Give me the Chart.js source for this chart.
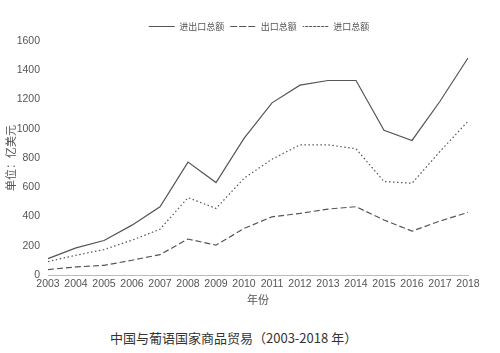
<!DOCTYPE html>
<html>
<head>
<meta charset="utf-8">
<script src="https://cdn.jsdelivr.net/npm/chart.js@4/dist/chart.umd.min.js"></script>
<style>
  html, body { margin: 0; padding: 0; background: #fff; }
  #wrap { position: relative; width: 500px; height: 353px; }
  #pie { position: absolute; left: 110px; top: 328px; font-family: 'Noto Sans CJK SC', sans-serif; font-size: 13px; color: #333; white-space: nowrap; }
</style>
</head>
<body>
<div id="wrap">
  <canvas id="grafica" width="500" height="318"></canvas>
  <div id="pie">中国与葡语国家商品贸易（2003-2018 年）</div>
</div>
<script>
// datos (亿美元)
const years = ['2003','2004','2005','2006','2007','2008','2009','2010','2011','2012','2013','2014','2015','2016','2017','2018'];
const totalTrade = [112, 185, 236, 341, 467, 772, 632, 934, 1177, 1298, 1330, 1330, 989, 920, 1188, 1484];
const exportsVal = [37, 55, 66, 101, 139, 246, 204, 318, 398, 421, 451, 467, 376, 300, 369, 428];
const importsVal = [92, 135, 174, 238, 313, 529, 455, 661, 792, 890, 890, 863, 639, 627, 845, 1051];
const seriesNames = ['进出口总额', '出口总额', '进口总额'];

const gris = '#555';
const fuente = "'Liberation Sans', sans-serif";
const fuenteCJK = "'Noto Sans CJK SC', sans-serif";

// mover la leyenda un poco a la derecha
const moverLeyenda = {
  id: 'moverLeyenda',
  afterLayout(chart) {
    if (chart.legend) { chart.legend.left += 23; chart.legend.right += 23; }
  }
};

let micanvas = document.getElementById('grafica').getContext('2d');
var chart = new Chart(micanvas, {
  type: 'line',
  data: {
    labels: years,
    datasets: [
      { label: seriesNames[0], data: totalTrade, borderColor: gris, backgroundColor: 'transparent', borderWidth: 1.2, pointRadius: 0, tension: 0 },
      { label: seriesNames[1], data: exportsVal, borderColor: gris, backgroundColor: 'transparent', borderWidth: 1.2, borderDash: [6, 3], pointRadius: 0, tension: 0 },
      { label: seriesNames[2], data: importsVal, borderColor: gris, backgroundColor: 'transparent', borderWidth: 1.2, borderDash: [1.5, 2.5], pointRadius: 0, tension: 0 }
    ]
  },
  plugins: [moverLeyenda],
  options: {
    responsive: false,
    animation: false,
    layout: { padding: { left: 4, right: 32, top: 16, bottom: 12 } },
    plugins: {
      legend: {
        display: true,
        position: 'top',
        labels: {
          boxWidth: 26, boxHeight: 0,
          color: gris,
          font: { family: fuenteCJK, size: 9 },
          padding: 6
        }
      },
      title: { display: false },
      tooltip: { enabled: false }
    },
    scales: {
      x: {
        offset: false,
        grid: { display: false, drawTicks: false },
        border: { display: true, color: '#bbb' },
        ticks: { color: gris, font: { family: fuente, size: 10.5 }, maxRotation: 0, autoSkip: false, padding: 3 },
        title: { display: true, text: '年份', color: gris, font: { family: fuenteCJK, size: 11 }, padding: { top: 2, bottom: 0 } },
        afterFit(scale) { scale.height = 31; }
      },
      y: {
        min: 0, max: 1600,
        grid: { display: false, drawTicks: false },
        border: { display: false },
        ticks: { stepSize: 200, color: gris, font: { family: fuente, size: 10.5 }, padding: 8, callback: v => String(v) },
        title: { display: true, text: '单位：亿美元', color: gris, font: { family: fuenteCJK, size: 11 }, padding: 0 },
        afterFit(scale) { scale.width = 44; }
      }
    }
  }
});
</script>
</body>
</html>
